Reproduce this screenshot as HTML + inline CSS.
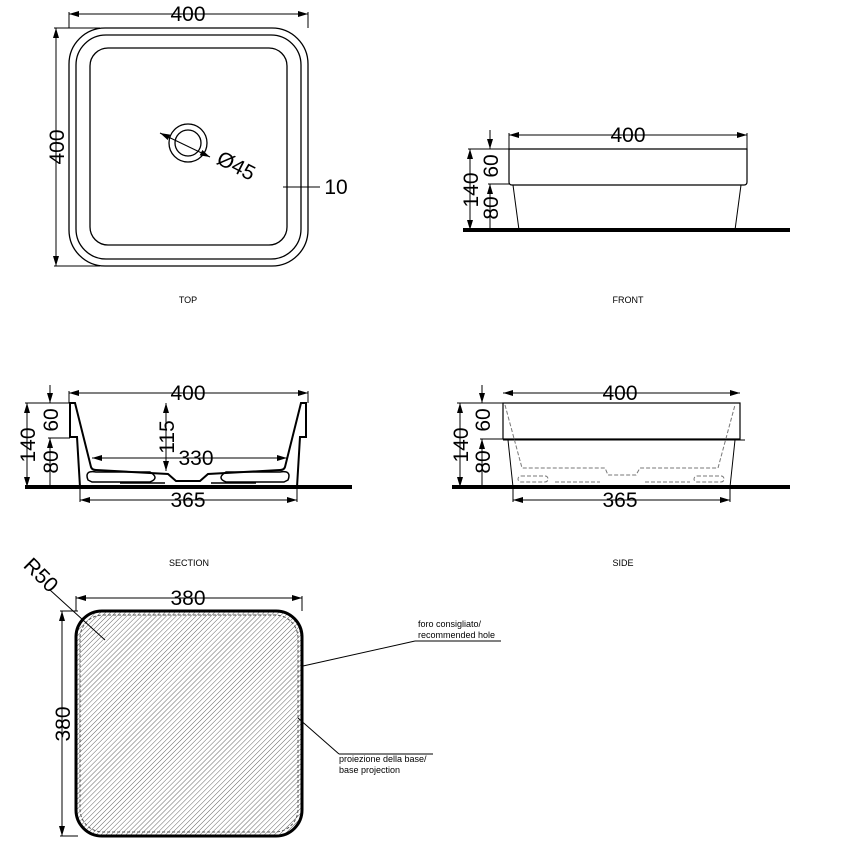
<!DOCTYPE html>
<html><head><style>body{margin:0;background:#fff}svg{display:block}text{font-family:"Liberation Sans",sans-serif;fill:#000}</style></head><body>
<svg width="852" height="855" viewBox="0 0 852 855" xmlns="http://www.w3.org/2000/svg">
<defs>
<marker id="a" viewBox="0 0 10 6" refX="10" refY="3" markerWidth="10" markerHeight="6" orient="auto-start-reverse" markerUnits="userSpaceOnUse"><path d="M0,0L10,3L0,6z" fill="#000"/></marker>
<pattern id="h" width="3.5" height="3.5" patternUnits="userSpaceOnUse" patternTransform="rotate(45)"><line x1="0" y1="0" x2="0" y2="3.5" stroke="#666" stroke-width="1"/></pattern>
</defs>
<g stroke="#000" fill="none" stroke-width="1">
<!-- TOP -->
<rect x="69" y="28" width="239" height="238" rx="36" stroke-width="1.3"/>
<rect x="76" y="35" width="225" height="224" rx="30" stroke-width="1.3"/>
<rect x="90" y="48" width="197" height="197" rx="18" stroke-width="1.3"/>
<circle cx="188" cy="143" r="19" stroke-width="1.3"/><circle cx="188" cy="143" r="13" stroke-width="1.3"/>
<line x1="69" y1="14" x2="308" y2="14" marker-start="url(#a)" marker-end="url(#a)"/>
<line x1="69" y1="12" x2="69" y2="28"/><line x1="308" y1="12" x2="308" y2="28"/>
<line x1="56" y1="28" x2="56" y2="266" marker-start="url(#a)" marker-end="url(#a)"/>
<line x1="54" y1="28" x2="100" y2="28"/><line x1="54" y1="266" x2="100" y2="266"/>
<line x1="160" y1="133" x2="210" y2="157" marker-start="url(#a)" marker-end="url(#a)"/>
<line x1="283" y1="187" x2="320" y2="187"/>
<!-- FRONT -->
<path d="M509,149H747V182Q747,185 744,185H512Q509,185 509,182Z" stroke-width="1.2"/>
<line x1="513" y1="185" x2="519" y2="230"/><line x1="741" y1="185" x2="735" y2="230"/>
<line x1="463" y1="230" x2="790" y2="230" stroke-width="4"/>
<line x1="509" y1="135" x2="747" y2="135" marker-start="url(#a)" marker-end="url(#a)"/>
<line x1="509" y1="133" x2="509" y2="149"/><line x1="747" y1="133" x2="747" y2="149"/>
<line x1="468" y1="149" x2="509" y2="149"/><line x1="488" y1="184" x2="509" y2="184"/>
<line x1="470" y1="149" x2="470" y2="230" marker-start="url(#a)" marker-end="url(#a)"/>
<line x1="490" y1="130" x2="490" y2="149" marker-end="url(#a)"/>
<line x1="490" y1="184" x2="490" y2="230" marker-start="url(#a)"/>
<!-- SECTION -->
<g stroke-width="2">
<path d="M70,403H75L91,467Q92,470 96,470L168,474L176,481H200L208,474L280,470Q284,470 285,467L301,403H306V437H300L297,487H80L77,437H70Z"/>
<path d="M88,480Q84,470 96,472H150Q160,478 150,482H92Z" stroke-width="1.5"/>
<path d="M288,480Q292,470 280,472H226Q216,478 226,482H284Z" stroke-width="1.5"/>
<path d="M120,483H165M211,483H256" stroke-width="1.5"/>
</g>
<line x1="25" y1="487" x2="352" y2="487" stroke-width="4"/>
<line x1="69" y1="393" x2="308" y2="393" marker-start="url(#a)" marker-end="url(#a)"/>
<line x1="69" y1="391" x2="69" y2="403"/><line x1="308" y1="391" x2="308" y2="403"/>
<line x1="92" y1="458" x2="287" y2="458" marker-start="url(#a)" marker-end="url(#a)"/>
<line x1="166" y1="403" x2="166" y2="471" marker-start="url(#a)" marker-end="url(#a)"/>
<line x1="80" y1="500" x2="297" y2="500" marker-start="url(#a)" marker-end="url(#a)"/>
<line x1="80" y1="488" x2="80" y2="502"/><line x1="297" y1="488" x2="297" y2="502"/>
<line x1="25" y1="403" x2="70" y2="403"/><line x1="48" y1="438" x2="70" y2="438"/>
<line x1="27" y1="403" x2="27" y2="487" marker-start="url(#a)" marker-end="url(#a)"/>
<line x1="50" y1="385" x2="50" y2="403" marker-end="url(#a)"/>
<line x1="50" y1="438" x2="50" y2="487" marker-start="url(#a)"/>
<!-- SIDE -->
<rect x="503" y="403" width="237" height="36" stroke-width="1.2"/>
<line x1="503" y1="440" x2="745" y2="440"/>
<line x1="508" y1="440" x2="513" y2="487"/><line x1="735" y1="440" x2="730" y2="487"/>
<g stroke="#777" stroke-dasharray="4,2" stroke-width="1">
<path d="M505,405L522,468H605L608,475H636L640,468H718L735,405"/>
<rect x="518" y="476" width="30" height="6" rx="3"/><rect x="694" y="476" width="30" height="6" rx="3"/>
<path d="M555,482H600M645,482H690"/>
</g>
<line x1="452" y1="487" x2="790" y2="487" stroke-width="4"/>
<line x1="503" y1="393" x2="740" y2="393" marker-start="url(#a)" marker-end="url(#a)"/>
<line x1="513" y1="500" x2="730" y2="500" marker-start="url(#a)" marker-end="url(#a)"/>
<line x1="513" y1="488" x2="513" y2="502"/><line x1="730" y1="488" x2="730" y2="502"/>
<line x1="457" y1="403" x2="503" y2="403"/><line x1="480" y1="439" x2="503" y2="439"/>
<line x1="460" y1="403" x2="460" y2="487" marker-start="url(#a)" marker-end="url(#a)"/>
<line x1="482" y1="385" x2="482" y2="403" marker-end="url(#a)"/>
<line x1="482" y1="439" x2="482" y2="487" marker-start="url(#a)"/>
<!-- BOTTOM -->
<rect x="76" y="611" width="226" height="225" rx="26" fill="url(#h)" stroke-width="3"/>
<rect x="80" y="615" width="218" height="217" rx="23" stroke="#555" stroke-dasharray="3,2"/>
<line x1="76" y1="598" x2="302" y2="598" marker-start="url(#a)" marker-end="url(#a)"/>
<line x1="76" y1="596" x2="76" y2="611"/><line x1="302" y1="596" x2="302" y2="611"/>
<line x1="62" y1="611" x2="62" y2="836" marker-start="url(#a)" marker-end="url(#a)"/>
<line x1="60" y1="611" x2="78" y2="611"/><line x1="60" y1="836" x2="78" y2="836"/>
<line x1="50" y1="590" x2="105" y2="640"/>
<line x1="303" y1="666" x2="415" y2="641" stroke-width="1"/><line x1="415" y1="641" x2="501" y2="641"/>
<line x1="298" y1="718" x2="339" y2="754"/><line x1="339" y1="754" x2="433" y2="754"/>
</g>
<g font-size="21" text-anchor="middle">
<text x="188" y="21">400</text>
<text transform="translate(64,147) rotate(-90)">400</text>
<text transform="translate(233,172) rotate(27)">Ø45</text>
<text x="336" y="194">10</text>
<text x="628" y="142">400</text>
<text transform="translate(478,190) rotate(-90)">140</text>
<text transform="translate(498,166) rotate(-90)">60</text>
<text transform="translate(498,208) rotate(-90)">80</text>
<text x="188" y="400">400</text>
<text x="196" y="465">330</text>
<text transform="translate(174,437) rotate(-90)">115</text>
<text x="188" y="507">365</text>
<text transform="translate(35,445) rotate(-90)">140</text>
<text transform="translate(58,420) rotate(-90)">60</text>
<text transform="translate(58,462) rotate(-90)">80</text>
<text x="620" y="400">400</text>
<text x="620" y="507">365</text>
<text transform="translate(468,445) rotate(-90)">140</text>
<text transform="translate(490,420) rotate(-90)">60</text>
<text transform="translate(490,462) rotate(-90)">80</text>
<text x="188" y="605">380</text>
<text transform="translate(70,724) rotate(-90)">380</text>
<text transform="translate(36,580) rotate(45)">R50</text>
</g>
<g font-size="9">
<text x="188" y="303" text-anchor="middle">TOP</text>
<text x="628" y="303" text-anchor="middle">FRONT</text>
<text x="189" y="566" text-anchor="middle">SECTION</text>
<text x="623" y="566" text-anchor="middle">SIDE</text>
<text x="418" y="627">foro consigliato/</text>
<text x="418" y="638">recommended hole</text>
<text x="339" y="762">proiezione della base/</text>
<text x="339" y="773">base projection</text>
</g>
</svg>
</body></html>
